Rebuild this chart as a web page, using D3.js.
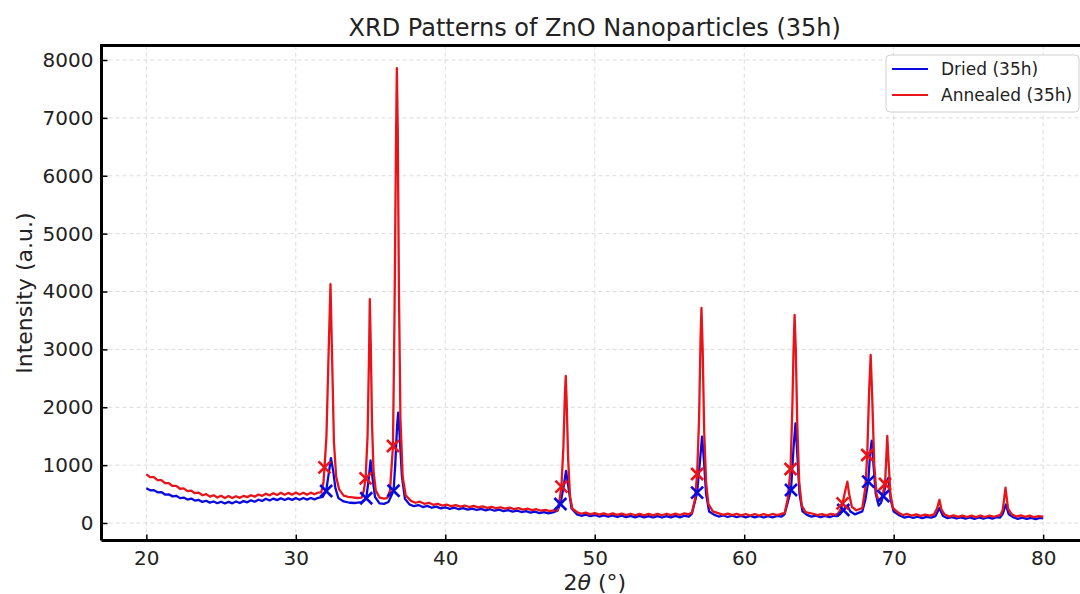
<!DOCTYPE html>
<html>
<head>
<meta charset="utf-8">
<script src="https://cdn.jsdelivr.net/npm/d3@7"></script>
<style>
html,body{margin:0;padding:0;background:#fff;overflow:hidden;}
svg{display:block;font-family:"DejaVu Sans",sans-serif;}
</style>
</head>
<body>
<svg id="chart" width="1080" height="594"></svg>
<script>
// ---- data ----
const xTicks = [20, 30, 40, 50, 60, 70, 80];
const yTicks = [0, 1000, 2000, 3000, 4000, 5000, 6000, 7000, 8000];
const seriesNames = ["Dried (35h)", "Annealed (35h)"];

// Dried (35h): [2θ, intensity]
const driedPattern = [
 [20,600],[20.25,565],[20.5,568],[20.75,530],[21,535],[21.25,492],[21.5,495],[21.75,460],[22,470],[22.25,430],
 [22.5,440],[22.75,405],[23,422],[23.25,388],[23.5,398],[23.75,365],[24,385],[24.25,352],[24.5,372],[24.75,342],
 [25,368],[25.25,338],[25.5,364],[25.75,340],[26,372],[26.25,345],[26.5,378],[26.75,358],[27,392],[27.25,368],
 [27.5,402],[27.75,382],[28,418],[28.25,390],[28.5,422],[28.75,395],[29,428],[29.25,398],[29.5,426],[29.75,400],
 [30,430],[30.25,402],[30.5,432],[30.75,405],[31,432],[31.25,408],[31.5,436],[31.8,450],[32.03,553],[32.2,850],
 [32.35,1120],[32.5,900],[32.65,600],[32.85,430],[33.2,372],[33.6,350],[34,346],[34.4,360],[34.71,427],[34.85,700],
 [35.0,1080],[35.12,800],[35.3,450],[35.6,340],[35.9,330],[36.2,362],[36.54,558],[36.65,1000],[36.78,1700],[36.85,1906],
 [36.95,1500],[37.1,800],[37.3,420],[37.6,322],[37.9,290],[38.2,310],[38.5,276],[38.8,296],[39.1,264],[39.4,284],
 [39.7,254],[40,272],[40.3,245],[40.6,265],[40.9,238],[41.2,258],[41.5,232],[41.8,250],[42.1,225],[42.4,244],
 [42.7,218],[43,238],[43.3,212],[43.6,230],[43.9,205],[44.2,222],[44.5,198],[44.8,214],[45.1,190],[45.4,206],
 [45.7,180],[46,196],[46.3,172],[46.6,188],[46.9,165],[47.2,182],[47.5,212],[47.7,328],[47.9,600],[48.08,900],
 [48.25,600],[48.45,250],[48.8,150],[49.1,125],[49.4,145],[49.7,118],[50,138],[50.3,112],[50.6,132],[50.9,108],
 [51.2,130],[51.5,104],[51.8,126],[52.1,100],[52.4,124],[52.7,98],[53,122],[53.3,96],[53.6,120],[53.9,95],
 [54.2,118],[54.5,95],[54.8,120],[55.1,96],[55.4,122],[55.7,98],[56,125],[56.3,110],[56.5,160],[56.85,524],
 [57.05,1100],[57.18,1491],[57.3,1100],[57.45,500],[57.65,200],[58,140],[58.3,112],[58.6,130],[58.9,104],[59.2,126],
 [59.5,100],[59.8,124],[60.1,98],[60.4,122],[60.7,96],[61,120],[61.3,95],[61.6,120],[61.9,98],[62.2,124],
 [62.5,112],[62.7,150],[63.13,570],[63.3,1300],[63.43,1722],[63.55,1200],[63.7,500],[63.9,200],[64.2,140],[64.5,110],
 [64.8,128],[65.1,100],[65.4,122],[65.7,102],[66,125],[66.2,118],[66.4,150],[66.63,225],[66.9,300],[67.1,200],
 [67.4,150],[67.9,200],[68.1,400],[68.3,714],[68.42,1200],[68.53,1422],[68.65,1000],[68.8,500],[69.0,300],[69.15,350],
 [69.3,466],[69.5,700],[69.64,780],[69.8,400],[70.0,200],[70.4,130],[70.7,95],[71,112],[71.3,88],[71.6,108],
 [71.9,86],[72.2,106],[72.5,92],[72.8,120],[73.06,260],[73.3,120],[73.6,85],[73.9,102],[74.2,78],[74.5,98],
 [74.8,74],[75.1,96],[75.4,72],[75.7,95],[76,74],[76.3,96],[76.6,76],[76.9,100],[77.1,92],[77.3,160],
 [77.5,320],[77.7,150],[78,100],[78.3,72],[78.6,92],[78.9,70],[79.2,90],[79.5,68],[79.8,88],[80,80]
];

// Annealed (35h): [2θ, intensity]
const annealedPattern = [
 [20,840],[20.25,792],[20.5,792],[20.75,742],[21,742],[21.25,690],[21.5,690],[21.75,640],[22,642],[22.25,592],
 [22.5,598],[22.75,550],[23,560],[23.25,515],[23.5,525],[23.75,480],[24,500],[24.25,455],[24.5,480],[24.75,440],
 [25,470],[25.25,432],[25.5,466],[25.75,432],[26,462],[26.25,435],[26.5,468],[26.75,447],[27,480],[27.25,455],
 [27.5,492],[27.75,470],[28,506],[28.25,478],[28.5,515],[28.75,485],[29,522],[29.25,488],[29.5,520],[29.75,490],
 [30,526],[30.25,492],[30.5,522],[30.75,490],[31,524],[31.25,497],[31.5,526],[31.7,530],[31.85,700],[31.92,962],
 [32.05,1500],[32.18,2800],[32.32,4129],[32.45,2600],[32.55,1400],[32.7,800],[32.9,580],[33.2,472],[33.5,452],[33.8,442],
 [34.1,432],[34.4,440],[34.55,560],[34.67,772],[34.8,1500],[34.9,2900],[34.95,3870],[35.02,3000],[35.1,1700],[35.2,900],
 [35.35,560],[35.6,440],[35.9,422],[36.1,432],[36.3,560],[36.5,1330],[36.6,3500],[36.7,6500],[36.76,7860],[36.82,6800],
 [36.9,4000],[37.0,1800],[37.15,800],[37.35,480],[37.7,382],[38,350],[38.3,368],[38.6,332],[38.9,350],[39.2,315],
 [39.5,332],[39.8,300],[40.1,318],[40.4,290],[40.7,310],[41,284],[41.3,302],[41.6,276],[41.9,295],[42.2,270],
 [42.5,288],[42.8,262],[43.1,280],[43.4,255],[43.7,272],[44,248],[44.3,265],[44.6,240],[44.9,258],[45.2,232],
 [45.5,248],[45.8,222],[46.1,238],[46.4,212],[46.7,228],[47,205],[47.3,222],[47.5,212],[47.65,400],[47.77,628],
 [47.9,1300],[48.0,2200],[48.06,2540],[48.12,2100],[48.22,1100],[48.35,450],[48.5,250],[48.8,190],[49.1,160],[49.4,180],
 [49.7,150],[50,172],[50.3,145],[50.6,168],[50.9,142],[51.2,165],[51.5,140],[51.8,162],[52.1,136],[52.4,160],
 [52.7,134],[53,158],[53.3,132],[53.6,158],[53.9,132],[54.2,158],[54.5,134],[54.8,160],[55.1,136],[55.4,162],
 [55.7,138],[56,165],[56.3,150],[56.5,180],[56.7,400],[56.85,847],[56.98,1800],[57.08,3200],[57.14,3715],[57.22,3000],
 [57.32,1600],[57.45,700],[57.6,330],[57.9,200],[58.3,166],[58.6,140],[58.9,162],[59.2,136],[59.5,158],[59.8,132],
 [60.1,156],[60.4,130],[60.7,155],[61,130],[61.3,154],[61.6,132],[61.9,156],[62.2,136],[62.5,160],[62.7,170],
 [62.9,400],[63.1,933],[63.22,2000],[63.3,3000],[63.37,3594],[63.45,3000],[63.55,1700],[63.68,700],[63.85,300],[64.1,190],
 [64.6,160],[64.9,135],[65.2,155],[65.5,132],[65.8,158],[66.1,140],[66.3,170],[66.5,260],[66.58,340],[66.75,550],
 [66.9,714],[67.02,500],[67.2,280],[67.5,220],[67.9,260],[68.1,600],[68.23,1175],[68.36,2300],[68.46,2903],[68.56,2200],
 [68.7,1000],[68.85,500],[69.0,380],[69.2,430],[69.42,674],[69.5,1100],[69.57,1503],[69.65,1100],[69.78,500],[69.95,260],
 [70.3,180],[70.6,138],[70.9,156],[71.2,128],[71.5,150],[71.8,124],[72.1,146],[72.4,126],[72.7,150],[72.9,250],
 [73.06,400],[73.2,230],[73.4,150],[73.7,112],[74,132],[74.3,106],[74.6,128],[74.9,104],[75.2,126],[75.5,102],
 [75.8,126],[76.1,104],[76.4,128],[76.7,108],[77,130],[77.15,140],[77.3,230],[77.48,610],[77.65,250],[77.9,150],
 [78.2,112],[78.5,132],[78.8,106],[79.1,126],[79.4,100],[79.7,120],[80,108]
];

// detected peak markers
const driedPeaks = [[32.03,553],[34.71,427],[36.54,558],[47.7,328],[56.85,524],[63.13,570],[66.63,225],[68.3,714],[69.3,466]];
const annealedPeaks = [[31.92,962],[34.67,772],[36.5,1330],[47.77,628],[56.85,847],[63.1,933],[66.58,340],[68.23,1175],[69.42,674]];

// ---- layout ----
const colors = ["#0a0ae0", "#e81419"];
const svg = d3.select("#chart");
const L = 101.5, R = 1088, T = 45.6, B = 540.6;
const x = d3.scaleLinear().domain([17, 83]).range([L, R]);
const y = d3.scaleLinear().domain([-304, 8249]).range([B, T]);

// grid
const grid = svg.append("g").attr("stroke", "#dcdcdc").attr("stroke-width", 1).attr("stroke-dasharray", "4,3");
grid.selectAll(".gx").data(xTicks).join("line")
  .attr("x1", d => x(d)).attr("x2", d => x(d)).attr("y1", T).attr("y2", B);
grid.selectAll(".gy").data(yTicks).join("line")
  .attr("x1", L).attr("x2", R).attr("y1", d => y(d)).attr("y2", d => y(d));

// lines
const line = d3.line().x(d => x(d[0])).y(d => y(d[1]));
svg.append("clipPath").attr("id", "clip").append("rect")
  .attr("x", L).attr("y", T).attr("width", R - L).attr("height", B - T);
const plot = svg.append("g").attr("clip-path", "url(#clip)");
[driedPattern, annealedPattern].forEach((s, i) => {
  plot.append("path").datum(s).attr("d", line)
    .attr("fill", "none").attr("stroke", colors[i]).attr("stroke-width", 2.3)
    .attr("stroke-linejoin", "round");
});

// x markers
const ms = 6;
[driedPeaks, annealedPeaks].forEach((pk, i) => {
  const g = plot.append("g").attr("stroke", colors[i]).attr("stroke-width", 2.6).attr("stroke-linecap", "butt");
  pk.forEach(p => {
    const cx = x(p[0]), cy = y(p[1]);
    g.append("path").attr("d", `M${cx-ms},${cy-ms}L${cx+ms},${cy+ms}M${cx-ms},${cy+ms}L${cx+ms},${cy-ms}`);
  });
});

// axes
const xAxis = d3.axisBottom(x).tickValues(xTicks).tickFormat(d3.format("d")).tickSizeInner(-6).tickSizeOuter(0).tickPadding(10);
const yAxis = d3.axisLeft(y).tickValues(yTicks).tickFormat(d3.format("d")).tickSizeInner(-6).tickSizeOuter(0).tickPadding(8);
const gx = svg.append("g").attr("transform", `translate(0,${B})`).call(xAxis);
const gy = svg.append("g").attr("transform", `translate(${L},0)`).call(yAxis);
[gx, gy].forEach(g => {
  g.select(".domain").remove();
  g.selectAll(".tick line").attr("stroke", "#000").attr("stroke-width", 1.5);
  g.selectAll(".tick text").attr("font-size", 20).attr("fill", "#222").attr("font-family", "DejaVu Sans");
});
gx.selectAll(".tick text").attr("dy", "0.71em");
// spines
svg.append("path").attr("d", `M${L},${B}V${T}H${R}M${L},${B}H${R}`)
  .attr("fill", "none").attr("stroke", "#000").attr("stroke-width", 3);

// title & labels
svg.append("text").attr("x", (L + R) / 2).attr("y", 36).attr("text-anchor", "middle")
  .attr("font-size", 24).attr("fill", "#222").text("XRD Patterns of ZnO Nanoparticles (35h)");
svg.append("text").attr("transform", `translate(32,${(T + B) / 2}) rotate(-90)`).attr("text-anchor", "middle")
  .attr("font-size", 22).attr("fill", "#222").text("Intensity (a.u.)");
const xl = svg.append("text").attr("x", (L + R) / 2).attr("y", 590).attr("text-anchor", "middle")
  .attr("font-size", 22).attr("fill", "#222");
xl.append("tspan").text("2");
xl.append("tspan").attr("font-style", "italic").text("θ");
xl.append("tspan").text(" (°)");

// legend
const lg = svg.append("g");
lg.append("rect").attr("x", 886).attr("y", 55).attr("width", 193).attr("height", 57).attr("rx", 4)
  .attr("fill", "#fff").attr("fill-opacity", 0.9).attr("stroke", "#d0d0d0").attr("stroke-width", 1);
seriesNames.forEach((n, i) => {
  const yy = 69 + i * 26;
  lg.append("line").attr("x1", 892).attr("x2", 928).attr("y1", yy).attr("y2", yy)
    .attr("stroke", colors[i]).attr("stroke-width", 2);
  lg.append("text").attr("x", 941).attr("y", yy + 6).attr("font-size", 17).attr("fill", "#222").text(n);
});
</script>
</body>
</html>
